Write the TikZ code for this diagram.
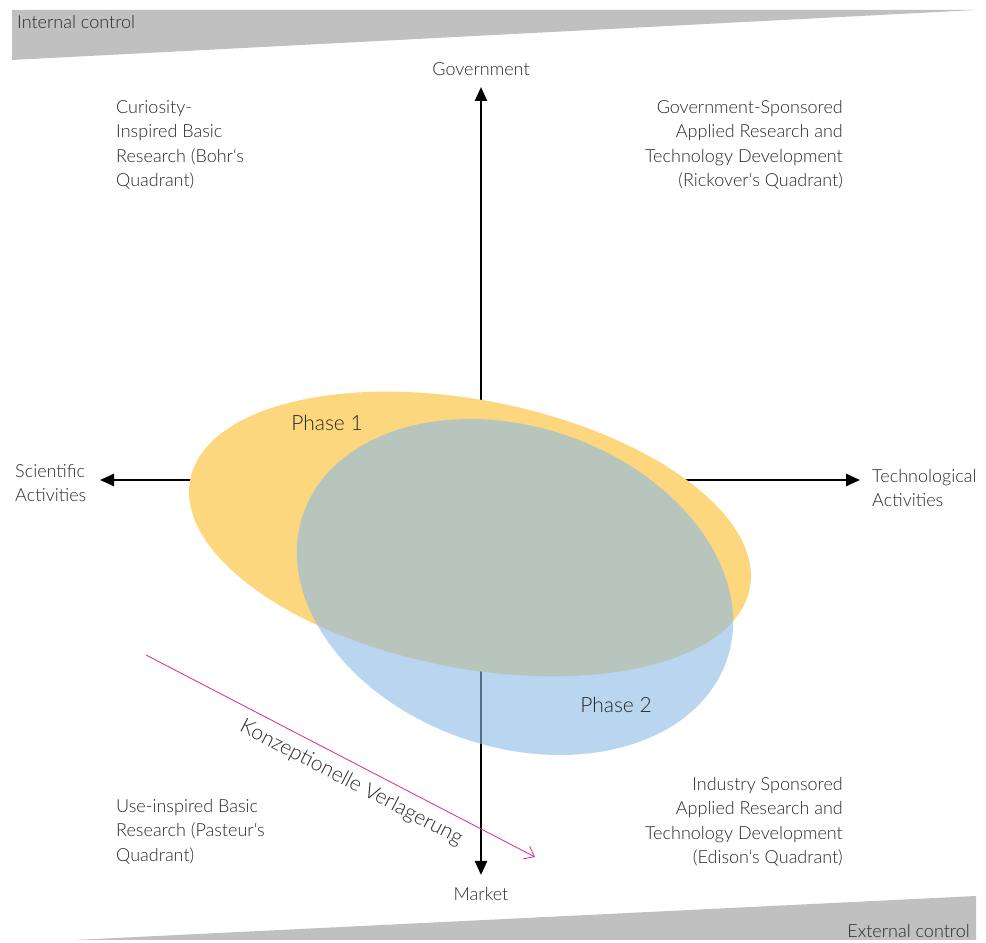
\documentclass[tikz,border=0pt]{standalone}
\usepackage{fontspec}
\setmainfont{Lato}[UprightFont=* Light]
\usetikzlibrary{arrows.meta, positioning, shapes.geometric}
\definecolor{bannergray}{RGB}{192,192,192}
\definecolor{phaseone}{RGB}{252,215,125}
\definecolor{phasetwo}{RGB}{138,185,230}
\definecolor{shiftcolor}{RGB}{222,40,140}
\definecolor{txtgray}{RGB}{40,40,40}
\tikzset{
  lbl/.style    = {text=txtgray, font=\fontsize{18}{24.5}\selectfont, inner sep=0pt},
  lleft/.style  = {lbl, align=left, anchor=north west},
  lright/.style = {lbl, align=right, anchor=north east},
  phase/.style  = {text=txtgray, font=\fontsize{21}{24}\selectfont, inner sep=0pt},
  axis/.style   = {{Triangle[length=14pt,width=12pt]}-{Triangle[length=14pt,width=12pt]},
                   line width=2.4pt, black},
  shiftarrow/.style = {-{Straight Barb[length=9pt,width=14pt]}, line width=0.8pt, color=shiftcolor},
}

\begin{document}
\begin{tikzpicture}[x=1pt, y=1pt]
  \useasboundingbox (0,0) rectangle (986,943);
  % control banners
  \fill[bannergray] (12,933) -- (976,933) -- (12,883) -- cycle;
  \fill[bannergray] (75,3) -- (976,3) -- (976,47) -- cycle;
  \node[lbl, anchor=west] (internal) at (17,921) {Internal control};
  \node[lbl, anchor=east] (external) at (970,12) {External control};
  % axes
  \coordinate (top) at (481,856);
  \coordinate (bottom) at (481,68);
  \coordinate (left) at (100,463);
  \coordinate (right) at (860,463);
  \draw[axis] (bottom) -- (top);
  \draw[axis] (left) -- (right);
  \node[lbl] (gov) at (481,874) {Government};
  \node[lbl] (market) at (481,49) {Market};
  \node[lleft] (sci) at (15,479) {Scientific\\Activities};
  \node[lleft] (tech) at (872,474) {Technological\\Activities};
  % phases
  \fill[phaseone, rotate around={-11:(470,409)}] (470,409) ellipse [x radius=285, y radius=134];
  \fill[phasetwo, opacity=0.6, rotate around={-19:(515,356)}] (515,356) ellipse [x radius=224, y radius=160];
  \node[phase] (p1) at (327,520) {Phase 1};
  \node[phase] (p2) at (616,238) {Phase 2};
  % quadrants
  \node[lleft] (bohr) at (116,843) {Curiosity-\\Inspired Basic\\Research (Bohr‘s\\Quadrant)};
  \node[lright] (rickover) at (843,843) {Government-Sponsored\\Applied Research and\\Technology Development\\(Rickover‘s Quadrant)};
  \node[lleft] (pasteur) at (116,144) {Use-inspired Basic\\Research (Pasteur‘s\\Quadrant)};
  \node[lright] (edison) at (843,166) {Industry Sponsored\\Applied Research and\\Technology Development\\(Edison‘s Quadrant)};
  % shift
  \coordinate (shiftA) at (146,288);
  \coordinate (shiftB) at (535,86);
  \draw[shiftarrow] (shiftA) -- node[phase, pos=0.55, sloped, below=9pt] (shifttxt) {Konzeptionelle Verlagerung} (shiftB);
\end{tikzpicture}
\end{document}
